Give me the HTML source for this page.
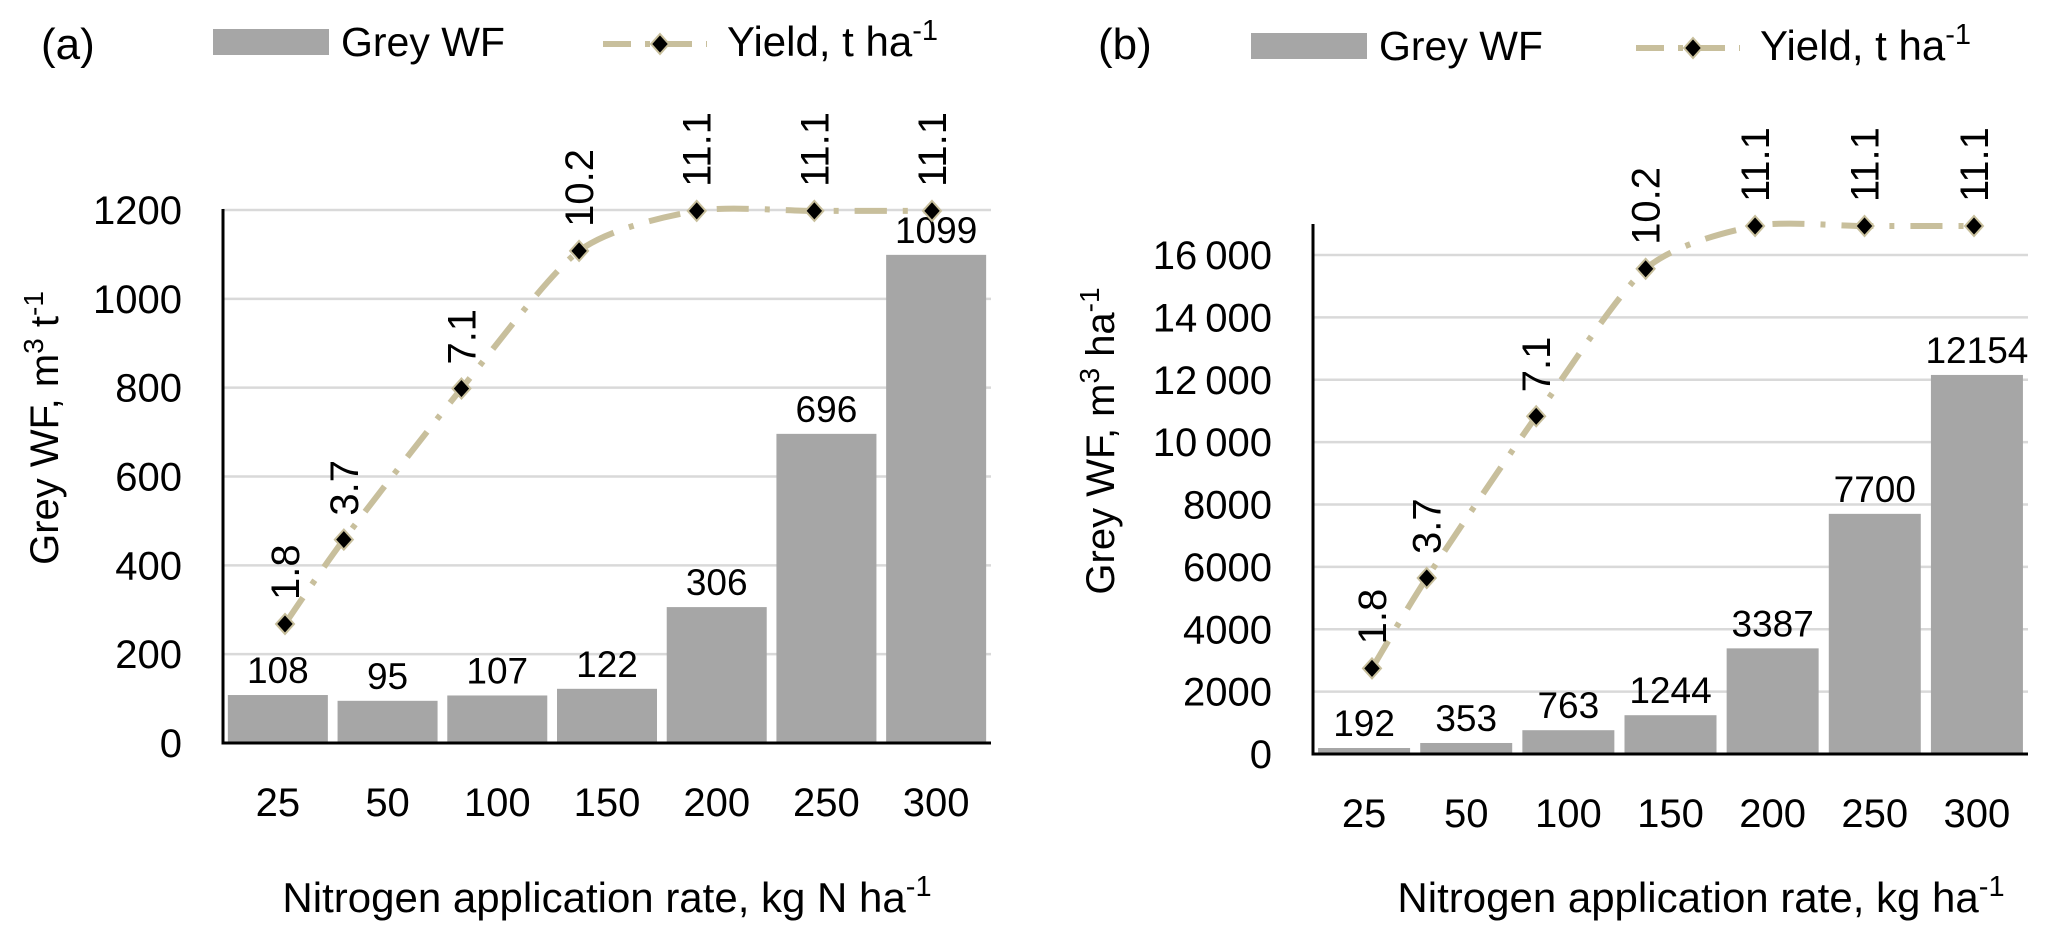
<!DOCTYPE html>
<html><head><meta charset="utf-8"><style>
body{margin:0;background:#fff;}
svg{display:block;font-family:"Liberation Sans",sans-serif;}
</style></head><body>
<svg id="c" width="2066" height="934" viewBox="0 0 2066 934" xmlns="http://www.w3.org/2000/svg"></svg>
<script>
const categories = ["25","50","100","150","200","250","300"];
const nRates = [25,50,100,150,200,250,300];
const greyA = [108,95,107,122,306,696,1099];
const greyB = [192,353,763,1244,3387,7700,12154];
const yieldVals = [1.8,3.7,7.1,10.2,11.1,11.1,11.1];
const yieldLabels = ["1.8","3.7","7.1","10.2","11.1","11.1","11.1"];
const ticksA = [0,200,400,600,800,1000,1200];
const tickLabelsA = ["0","200","400","600","800","1000","1200"];
const ticksB = [0,2000,4000,6000,8000,10000,12000,14000,16000];
const tickLabelsB = ["0","2000","4000","6000","8000","10\u2009000","12\u2009000","14\u2009000","16\u2009000"];

const svg = document.getElementById('c');
const NS = 'http://www.w3.org/2000/svg';
function mk(tag, attrs, parent){const e=document.createElementNS(NS,tag);for(const k in attrs)e.setAttribute(k,attrs[k]);(parent||svg).appendChild(e);return e;}
const TAN='#c8bf9c';

function panel(p){
  const g=mk('g',{});
  
  
  const yS=v=>p.base-(v-p.ymin)/(p.ymax-p.ymin)*(p.base-p.top);
  const y2S=v=>p.y2base-(v-p.y2min)/(p.y2max-p.y2min)*(p.y2base-p.y2top);
  const xN=n=>p.nx0+(n-25)/(300-25)*(p.nx1-p.nx0);
  const cw=(p.right-p.left)/categories.length;
  p.ticks.forEach((t,i)=>{
    if(t>0){const l=mk('line',{x1:p.left,x2:p.right,y1:yS(t),y2:yS(t),stroke:'#d9d9d9','stroke-width':2.5},g);
      
      }
    const tx=mk('text',{x:p.tickRight,y:yS(t)+14,'text-anchor':'end','font-size':40,fill:'#000'},g);
    tx.textContent=p.tickLabels[i];
    
    
  });
  p.grey.forEach((v,i)=>{
    const cx=p.left+cw*(i+0.5);
    const r=mk('rect',{x:cx-p.bw/2,y:yS(v),width:p.bw,height:p.base-yS(v),fill:'#a6a6a6'},g);
    
    
    const t=mk('text',{x:cx,y:yS(v)-12,'text-anchor':'middle','font-size':37,fill:'#000'},g);
    t.textContent=String(v);
    
    
    const xl=mk('text',{x:cx,y:p.base+73,'text-anchor':'middle','font-size':40,fill:'#000'},g);
    xl.textContent=categories[i];
    
    
  });
  const ax=mk('line',{x1:p.left,x2:p.left,y1:p.axTop,y2:p.base+1.5,stroke:'#000','stroke-width':3},g);
  
  
  const bx=mk('line',{x1:p.left,x2:p.right,y1:p.base,y2:p.base,stroke:'#000','stroke-width':3},g);
  
  
  const pts=yieldVals.map((v,i)=>[xN(nRates[i]),y2S(v)]);
  const d=pts.map((q,i)=>{
    if(i===0)return 'M'+q[0]+','+q[1];
    const pr=pts[i-1];const pp=pts[i-2]||pr;const nx=pts[i+1]||q;
    const c1=[pr[0]+(q[0]-pp[0])/8,pr[1]+(q[1]-pp[1])/8];
    const c2=[q[0]-(nx[0]-pr[0])/8,q[1]-(nx[1]-pr[1])/8];
    return 'C'+c1+' '+c2+' '+q;}).join(' ');
  const ln=mk('path',{d:d,fill:'none',stroke:TAN,'stroke-width':6,'stroke-dasharray':'32 16 5 16'},g);
  
  
  pts.forEach((q,i)=>{
    const m=mk('polygon',{points:`${q[0]},${q[1]-10} ${q[0]+9},${q[1]} ${q[0]},${q[1]+10} ${q[0]-9},${q[1]}`,fill:'#000',stroke:TAN,'stroke-width':2},g);
    
    
    const t=mk('text',{x:0,y:0,'font-size':40,fill:'#000',transform:`translate(${q[0]+14},${q[1]-24}) rotate(-90)`},g);
    t.textContent=yieldLabels[i];
    
    
  });
  const yt=mk('text',{x:0,y:0,'font-size':40,'text-anchor':'middle',fill:'#000',transform:`translate(${p.ytX},${p.ytY}) rotate(-90)`},g);
  yt.innerHTML=p.ytitle;
  
  
  const xt=mk('text',{x:p.xtX,y:912,'font-size':42,'text-anchor':'middle',fill:'#000'},g);
  xt.innerHTML=p.xtitle;
  
  
  const pl=mk('text',{x:p.plX,y:59,'font-size':44,fill:'#000'},g);
  pl.textContent=p.label;
  
  
  const sw=mk('rect',{x:p.lgX,y:p.lgY,width:116,height:26,fill:'#a6a6a6'},g);
  
  
  const st=mk('text',{x:p.lgX+128,y:p.lgY+27,'font-size':41,fill:'#000'},g);
  st.textContent='Grey WF';
  
  
  const ly=p.lgY+15;
  const ll=mk('line',{x1:p.lg2X,x2:p.lg2X+104,y1:ly,y2:ly,stroke:TAN,'stroke-width':6,'stroke-dasharray':'28 14 5 14'},g);
  
  
  const lm=mk('polygon',{points:`${p.lg2X+57},${ly-10} ${p.lg2X+66},${ly} ${p.lg2X+57},${ly+10} ${p.lg2X+48},${ly}`,fill:'#000',stroke:TAN,'stroke-width':2},g);
  
  
  const lt=mk('text',{x:p.lg2X+124,y:p.lgY+27,'font-size':42,fill:'#000'},g);
  lt.innerHTML='Yield, t ha<tspan dy="-16" font-size="29">-1</tspan>';
  
  
}

panel({id:'a',left:223,right:991,base:743,top:210,ymin:0,ymax:1200,axTop:209,bw:100,
  y2base:743,y2top:210,y2min:-0.88,y2max:11.12,nx0:285,nx1:932,
  ticks:ticksA,tickLabels:tickLabelsA,tickRight:182,grey:greyA,
  ytX:58,ytY:428,ytitle:'Grey WF, m<tspan dy="-15" font-size="28">3</tspan><tspan dy="15"> t</tspan><tspan dy="-15" font-size="28">-1</tspan>',
  xtX:607,xtitle:'Nitrogen application rate, kg N ha<tspan dy="-16" font-size="29">-1</tspan>',
  plX:41,label:'(a)',lgX:213,lgY:29,lg2X:603});
panel({id:'b',left:1313,right:2028,base:754,top:255,ymin:0,ymax:16000,axTop:224,bw:92,
  y2base:754,y2top:226,y2min:0,y2max:11.1,nx0:1372,nx1:1974,
  ticks:ticksB,tickLabels:tickLabelsB,tickRight:1272,grey:greyB,
  ytX:1114,ytY:441,ytitle:'Grey WF, m<tspan dy="-15" font-size="28">3</tspan><tspan dy="15"> ha</tspan><tspan dy="-15" font-size="28">-1</tspan>',
  xtX:1701,xtitle:'Nitrogen application rate, kg ha<tspan dy="-16" font-size="29">-1</tspan>',
  plX:1098,label:'(b)',lgX:1251,lgY:33,lg2X:1636});
</script>
</body></html>
